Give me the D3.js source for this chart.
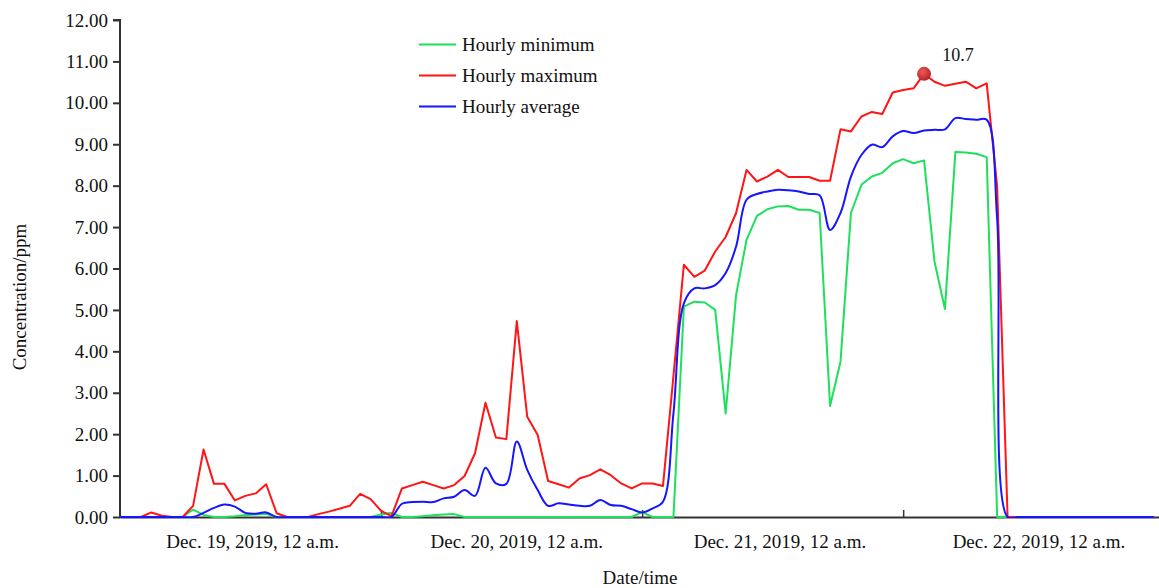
<!DOCTYPE html>
<html><head><meta charset="utf-8">
<script src="https://cdn.jsdelivr.net/npm/d3@7"></script>
<style>
body{margin:0;background:#fff}
svg{display:block}
text{font-family:"Liberation Serif","Times New Roman",serif;fill:#111}
</style>
</head><body>
<svg id="chart" width="1159" height="588"></svg>
<script>
// ---- data (hourly points, index 0..99) ----
const hourlyMin = [0,0,0,0,0,0,0,0.18,0.05,0,
  0,0.02,0.05,0.06,0.08,0,0,0,0,0,
  0,0,0,0,0,0.06,0.10,0,0,0.02,
  0.04,0.06,0.07,0,0,0,0,0,0,0,
  0,0,0,0,0,0,0,0,0,0,
  0.12,0,0,0,5.08,5.20,5.18,5.00,2.50,5.36,
  6.69,7.27,7.43,7.50,7.51,7.42,7.42,7.34,2.68,3.75,
  7.34,8.02,8.22,8.31,8.54,8.64,8.54,8.61,6.17,5.02,
  8.81,8.80,8.77,8.69,0,0,0,0,0,0,
  0,0,0,0,0,0,0,0,0,0];
const hourlyMax = [0,0,0,0.11,0.03,0,0,0.27,1.63,0.80,
  0.80,0.40,0.51,0.57,0.79,0.09,0,0,0,0.07,
  0.13,0.20,0.27,0.56,0.43,0.15,0.02,0.69,0.77,0.85,
  0.77,0.69,0.77,0.99,1.54,2.76,1.92,1.88,4.73,2.42,
  1.98,0.87,0.79,0.71,0.93,1.01,1.15,1.01,0.81,0.69,
  0.81,0.81,0.75,3.40,6.09,5.80,5.95,6.41,6.76,7.34,
  8.38,8.10,8.22,8.38,8.21,8.21,8.21,8.12,8.12,9.36,
  9.31,9.67,9.78,9.73,10.25,10.31,10.35,10.70,10.51,10.41,
  10.46,10.51,10.35,10.47,7.98,0,0,0,0,0,
  0,0,0,0,0,0,0,0,0,0];
const hourlyAvg = [0,0,0,0,0,0,0,0,0.10,0.22,
  0.30,0.25,0.10,0.08,0.11,0,0,0,0,0,
  0,0,0,0,0,0,0,0.32,0.36,0.37,
  0.36,0.45,0.49,0.65,0.51,1.19,0.81,0.80,1.82,1.14,
  0.65,0.27,0.33,0.30,0.27,0.27,0.41,0.29,0.27,0.19,
  0.11,0.21,0.37,2.50,5.16,5.52,5.52,5.60,5.89,6.53,
  7.66,7.80,7.86,7.90,7.89,7.86,7.80,7.77,6.93,7.34,
  8.22,8.74,8.99,8.93,9.19,9.32,9.27,9.33,9.35,9.36,
  9.63,9.61,9.59,9.59,7.2,0,0,0,0,0,
  0,0,0,0,0,0,0,0,0,0];
const yTicks = [0,1,2,3,4,5,6,7,8,9,10,11,12];
const dayLabels = ["Dec. 19, 2019, 12 a.m.","Dec. 20, 2019, 12 a.m.","Dec. 21, 2019, 12 a.m.","Dec. 22, 2019, 12 a.m."];
const dayLabelIndex = [12.7, 38, 63.2, 88];
const dayTickIndex = [25, 50, 75];
const seriesNames = ["Hourly minimum","Hourly maximum","Hourly average"];
const seriesColors = ["#1ee05c","#ff1515","#1515ff"];
const peakIndex = 77, peakLabel = "10.7";
const xTitle = "Date/time", yTitle = "Concentration/ppm";

// ---- layout ----
const svg = d3.select("#chart");
const x = d3.scaleLinear().domain([0, 99.5]).range([120, 1159]);
const y = d3.scaleLinear().domain([0, 12]).range([517, 20]);
const axisColor = "#333";

// y axis
const gy = svg.append("g").attr("transform", `translate(${x(0)},0)`)
  .call(d3.axisLeft(y).tickValues(yTicks).tickFormat(d3.format(".2f")).tickSize(7).tickPadding(5));
gy.select(".domain").attr("stroke", axisColor).attr("stroke-width", 2).attr("d", `M-7,${y(12)}H0V${y(0)}`);
gy.selectAll(".tick line").attr("stroke", axisColor).attr("stroke-width", 2);
gy.selectAll(".tick text").attr("font-size", 19).attr("font-family", "Liberation Serif, Times New Roman, serif").attr("fill", "#111");

// x axis
const gx = svg.append("g").attr("transform", `translate(0,${y(0)})`)
  .call(d3.axisBottom(x).tickValues(dayTickIndex).tickFormat("").tickSize(-7).tickSizeOuter(0));
gx.select(".domain").attr("stroke", axisColor).attr("stroke-width", 2);
gx.selectAll(".tick line").attr("stroke", axisColor).attr("stroke-width", 1.5);

svg.append("g").selectAll("text").data(dayLabels).join("text")
  .attr("x", (d, i) => x(dayLabelIndex[i])).attr("y", 548)
  .attr("text-anchor", "middle").attr("font-size", 19).text(d => d);

svg.append("text").attr("x", 640).attr("y", 584).attr("text-anchor", "middle")
  .attr("font-size", 19).text(xTitle);
svg.append("text").attr("transform", "translate(26,297) rotate(-90)").attr("text-anchor", "middle")
  .attr("font-size", 19).text(yTitle);

// clip
svg.append("clipPath").attr("id", "plotClip").append("rect")
  .attr("x", x(0)).attr("y", 0).attr("width", 1159 - x(0)).attr("height", y(0) + 1);

const plot = svg.append("g").attr("clip-path", "url(#plotClip)");
const lineStraight = d3.line().x((d, i) => x(i)).y(d => y(d));
const lineSmooth = d3.line().x((d, i) => x(i)).y(d => y(d)).curve(d3.curveCatmullRom.alpha(0.5));

const seriesData = [hourlyMin, hourlyMax, hourlyAvg];
const gens = [lineStraight, lineStraight, lineSmooth];
seriesData.forEach((s, k) => {
  plot.append("path").datum(s).attr("fill", "none").attr("stroke", seriesColors[k])
    .attr("stroke-width", 2).attr("stroke-linejoin", "round").attr("d", gens[k]);
});

// peak marker
const defs = svg.append("defs");
const grad = defs.append("radialGradient").attr("id", "dotGrad").attr("cx", "40%").attr("cy", "35%").attr("r", "65%");
grad.append("stop").attr("offset", "0%").attr("stop-color", "#ee5a5a");
grad.append("stop").attr("offset", "100%").attr("stop-color", "#b82424");
svg.append("circle").attr("cx", x(peakIndex)).attr("cy", y(hourlyMax[peakIndex])).attr("r", 7)
  .attr("fill", "url(#dotGrad)");
svg.append("text").attr("x", x(peakIndex) + 34).attr("y", y(hourlyMax[peakIndex]) - 13)
  .attr("text-anchor", "middle").attr("font-size", 18).text(peakLabel);

// legend
const legend = svg.append("g").attr("transform", "translate(419,44.5)");
seriesNames.forEach((n, k) => {
  const g = legend.append("g").attr("transform", `translate(0,${k * 31})`);
  g.append("line").attr("x1", 0).attr("x2", 37).attr("y1", 0).attr("y2", 0)
    .attr("stroke", seriesColors[k]).attr("stroke-width", 2);
  g.append("text").attr("x", 43).attr("y", 6).attr("font-size", 19).text(n);
});
</script>
</body></html>
